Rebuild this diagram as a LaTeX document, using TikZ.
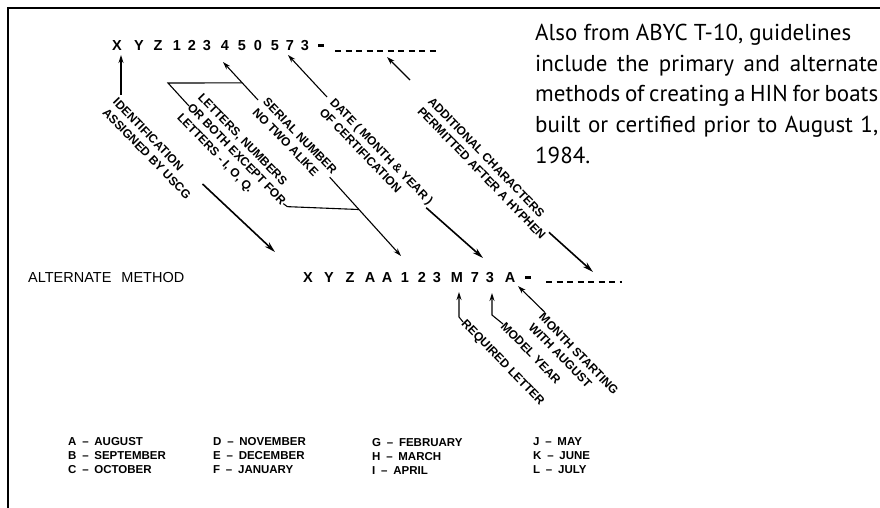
\documentclass[tikz,border=0pt]{standalone}
\usepackage{fontspec}
\setmainfont{Liberation Sans}
\newfontfamily\notefont{PT Sans}
\usetikzlibrary{arrows.meta, positioning}

\begin{document}
\begin{tikzpicture}[x=1pt, y=-1pt,
        hin/.style={anchor=base, inner sep=0pt, font=\fontsize{14.5}{14.5}\selectfont\bfseries},
        lab/.style={rotate=-46, anchor=west, align=left, inner sep=0pt, font=\fontsize{12}{14.5}\selectfont\bfseries},
        key/.style={anchor=west, align=left, inner sep=0pt, font=\fontsize{11.5}{14}\selectfont\bfseries},
        note/.style={anchor=north west, inner sep=0pt, text width=343pt, align=justify, font=\notefont\fontsize{23}{30.7}\selectfont},
        arr/.style={-{Stealth[length=8pt, width=5pt]}, line width=1.1pt},
        bigarr/.style={-{Stealth[length=11pt, width=6pt]}, line width=1.6pt},
        link/.style={line width=1.1pt},
        blanks/.style={line width=1.4pt, dash pattern=on 6pt off 4.5pt}]

    \useasboundingbox (0,0) rectangle (880,508);

    % frame
    \draw[line width=1.6pt] (8,508) -- (8,8) -- (880,8);

    % note
    \node[note] (note) at (535,24) {Also from ABYC T-10, guidelines\\
        include the primary and alternate\linebreak
        methods of creating a HIN for boats\linebreak
        built or certified prior to August 1,\linebreak
        1984.};

    % primary HIN
    \foreach \c/\x [count=\i] in {X/117,Y/139,Z/158,1/177,2/192,3/207,4/225,5/242,0/258,5/275,7/290,3/305}
        \node[hin] (t\i) at (\x,50.5) {\c};
    \node[hin] (tdash) at (321,47) {\rule{6pt}{2.6pt}};
    \coordinate (tbl) at (335,51);
    \coordinate (tbr) at (437,51);
    \draw[blanks] (tbl) -- (tbr);

    % alternate HIN
    \node[anchor=west, inner sep=0pt, font=\fontsize{14.5}{14.5}\selectfont] (alt) at (28,278) {ALTERNATE\hspace{10pt}METHOD};
    \foreach \c/\x [count=\i] in {X/308,Y/329,Z/350,A/370,A/387,1/405,2/422,3/437,M/457,7/475,3/490,A/510}
        \node[hin] (m\i) at (\x,282) {\c};
    \node[hin] (mdash) at (528,278.5) {\rule{6pt}{2.6pt}};
    \coordinate (mbl) at (546,282);
    \coordinate (mbr) at (622,282);
    \draw[blanks] (mbl) -- (mbr);

    % labels
    \node[lab] (lid) at (110,105) {IDENTIFICATION\\ASSIGNED BY USCG};
    \node[lab] (llet) at (189,106) {LETTERS, NUMBERS\\OR BOTH EXCEPT FOR\\LETTERS - I, O, Q.};
    \node[lab] (lser) at (260,105) {SERIAL NUMBER\\NO TWO ALIKE};
    \node[lab] (ldate) at (327,105) {DATE ( MONTH \& YEAR )\\OF CERTIFICATION};
    \node[lab] (ladd) at (425,104) {ADDITIONAL CHARACTERS\\PERMITTED AFTER A HYPHEN};
    \node[lab] (lreq) at (463,322) {REQUIRED LETTER};
    \node[lab] (lmod) at (503,324) {MODEL YEAR};
    \node[lab] (lmon) at (536,320) {MONTH STARTING\\WITH AUGUST};

    % arrow ends
    \coordinate (idA) at (121,95);
    \coordinate (idB) at (121,55);
    \coordinate (serA) at (258,100);
    \coordinate (serB) at (223,62);
    \coordinate (datA) at (327,97);
    \coordinate (datB) at (288,55);
    \coordinate (addA) at (410,80);
    \coordinate (addB) at (387,57);
    \coordinate (idTip) at (275,252);
    \coordinate (serTip) at (401,256);
    \coordinate (datTip) at (483,258);
    \coordinate (addTip) at (593,272);
    \coordinate (monTip) at (518,286);

    % upper arrows
    \draw[arr] (idA) -- (idB);
    \draw[arr] (serA) -- coordinate[pos=0.45] (serK) (serB);
    \draw[arr] (datA) -- (datB);
    \draw[arr] (addA) -- (addB);
    \draw[link] (llet.west) -- (168,83) -- (serK);

    % lower arrows
    \draw[bigarr] (lid.north east) -- (idTip);
    \draw[arr] (lser.east) -- coordinate[pos=0.41] (serJ) (serTip);
    \draw[link] (llet.east) -- ++(4,3) -- (serJ);
    \draw[bigarr] (ldate.east) -- (datTip);
    \draw[bigarr] (ladd.east) -- (addTip);

    % alternate arrows
    \draw[arr] (lreq.west) -- ++(-4,-5) -- ++(0,-25);
    \draw[arr] (lmod.west) -- ++(-11,-9) -- ++(0,-22);
    \draw[arr] (lmon.north west) -- (monTip);

    % month key
    \node[key] (k1) at (68,456) {A\enspace--\enspace AUGUST\\B\enspace--\enspace SEPTEMBER\\C\enspace--\enspace OCTOBER};
    \node[key] (k2) at (213,456) {D\enspace--\enspace NOVEMBER\\E\enspace--\enspace DECEMBER\\F\enspace--\enspace JANUARY};
    \node[key] (k3) at (372,456) {G\enspace--\enspace FEBRUARY\\H\enspace--\enspace MARCH\\I\enspace--\enspace APRIL};
    \node[key] (k4) at (533,456) {J\enspace--\enspace MAY\\K\enspace--\enspace JUNE\\L\enspace--\enspace JULY};
\end{tikzpicture}
\end{document}
